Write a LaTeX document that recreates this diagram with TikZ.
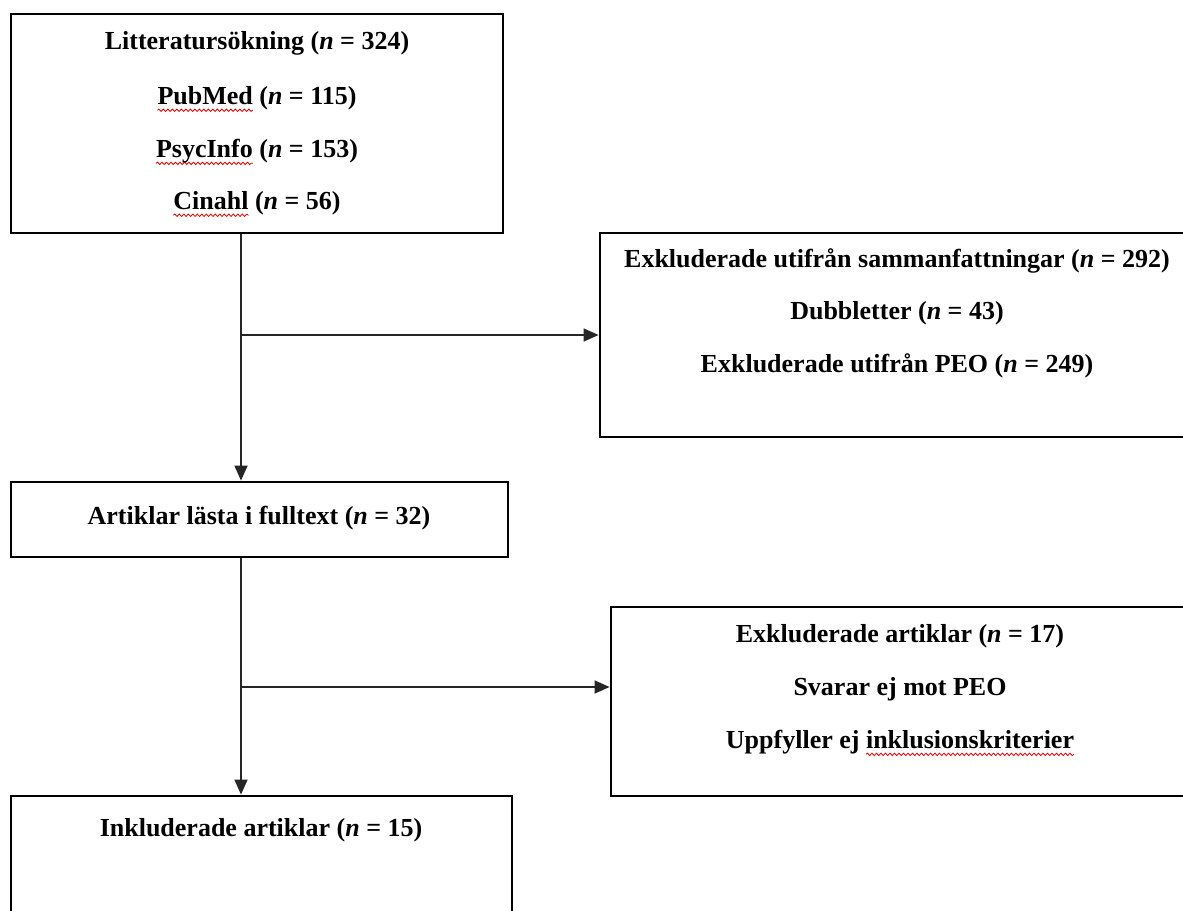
\documentclass[tikz,border=0pt]{standalone}
\usepackage{fontspec}
\setmainfont{Liberation Serif}
\usetikzlibrary{arrows.meta,decorations.pathmorphing}
\newdimen\spw
\newcommand\spellerr[1]{\settowidth\spw{#1}\rlap{\tikz[overlay,baseline=0pt]\draw[red!90!black, line width=0.8pt, decorate, decoration={snake, amplitude=1.2pt, segment length=4.5pt}] (0pt,-6pt) -- (\spw,-6pt);}#1}
\tikzset{
  boxnode/.style={draw=black, line width=2.8pt, inner sep=0pt, fill=none},
  txt/.style={inner sep=0pt, font=\fontsize{26}{31}\selectfont\bfseries, anchor=center},
  conn/.style={draw=black!85, line width=1.4pt},
  arr/.style={conn, -{Triangle[length=15pt,width=13pt]}}
}
\begin{document}
\begin{tikzpicture}[x=1pt,y=-1pt]
\clip (0,0) rectangle (1183,910);
\fill[white] (0,0) rectangle (1183,910);
% boxes
\node[boxnode, minimum width=492pt, minimum height=219pt] (search) at (257,123.5) {};
\node[boxnode, minimum width=590pt, minimum height=204pt] (excl1) at (895,335) {};
\node[boxnode, minimum width=497pt, minimum height=75pt] (full) at (259.5,519.5) {};
\node[boxnode, minimum width=579pt, minimum height=189pt] (excl2) at (900.5,701.5) {};
\node[boxnode, minimum width=501pt, minimum height=134pt] (incl) at (261.5,863) {};
% texts
\node[txt] (t1) at (257,43) {Litteratursökning (\textit{n} = 324)};
\node[txt] (t2) at (257,98) {\spellerr{PubMed} (\textit{n} = 115)};
\node[txt] (t3) at (257,151) {\spellerr{PsycInfo} (\textit{n} = 153)};
\node[txt] (t4) at (257,203) {\spellerr{Cinahl} (\textit{n} = 56)};
\node[txt] (e1) at (897,261) {Exkluderade utifrån sammanfattningar (\textit{n} = 292)};
\node[txt] (e2) at (897,313) {Dubbletter (\textit{n} = 43)};
\node[txt] (e3) at (897,366) {Exkluderade utifrån PEO (\textit{n} = 249)};
\node[txt] (f1) at (259,518) {Artiklar lästa i fulltext (\textit{n} = 32)};
\node[txt] (x1) at (900,636) {Exkluderade artiklar (\textit{n} = 17)};
\node[txt] (x2) at (900,689) {Svarar ej mot PEO};
\node[txt] (x3) at (900,742) {Uppfyller ej \spellerr{inklusionskriterier}};
\node[txt] (i1) at (261,830) {Inkluderade artiklar (\textit{n} = 15)};
% connectors
\coordinate (j1) at (241,335);
\coordinate (j2) at (241,687);
\draw[arr] (search.south -| j1) -- (full.north -| j1);
\draw[arr] (j1) -- (excl1.west |- j1);
\draw[arr] (full.south -| j2) -- (incl.north -| j2);
\draw[arr] (j2) -- (excl2.west |- j2);
\end{tikzpicture}
\end{document}
